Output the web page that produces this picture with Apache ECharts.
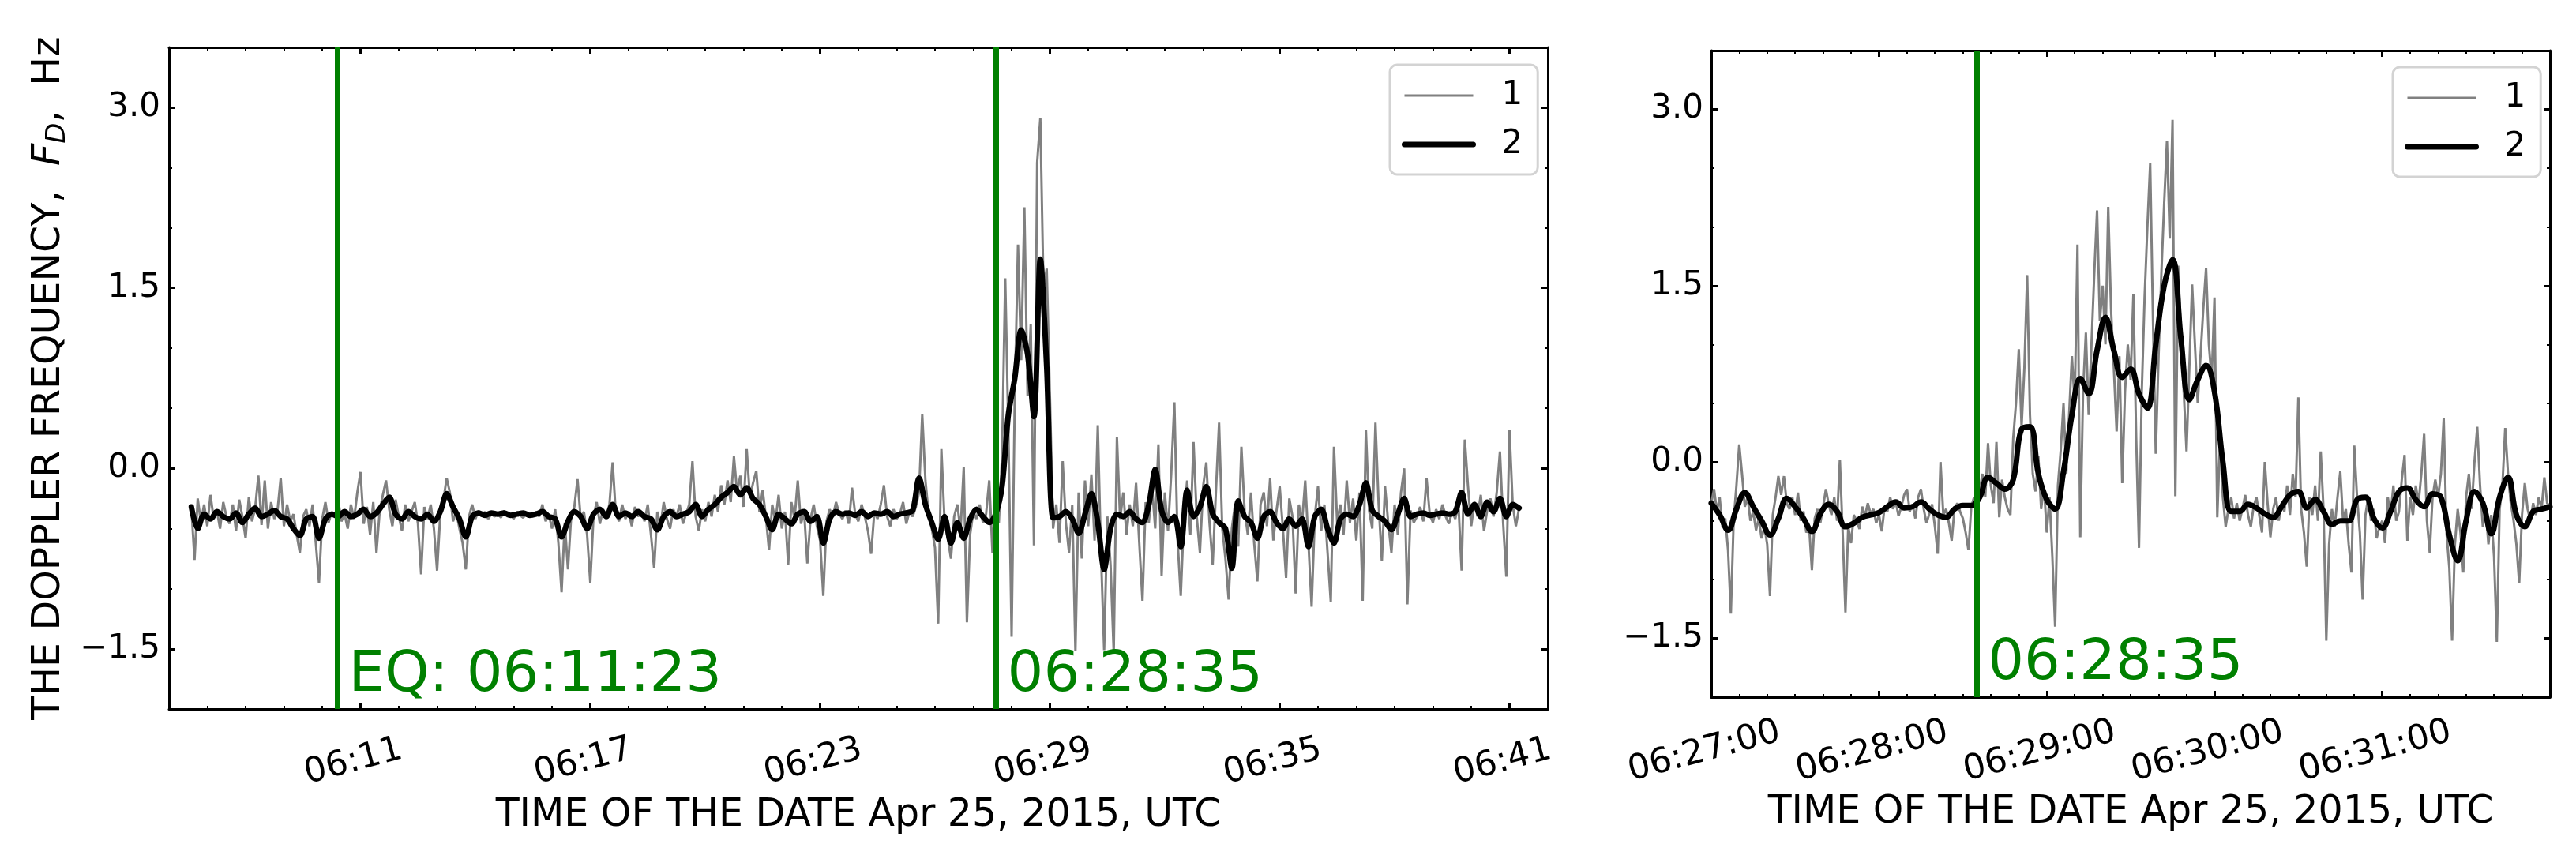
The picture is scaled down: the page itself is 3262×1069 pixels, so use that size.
<!DOCTYPE html>
<html>
<head>
<meta charset="utf-8">
<script src="https://cdn.jsdelivr.net/npm/echarts@6/dist/echarts.min.js"></script>
<style>
    html, body {margin: 0; padding: 0; background: #fff;}
    #main {width: 3262px; height: 1069px;}
</style>
</head>
<body>
<div id="main"></div>
<script>
// Doppler frequency, Apr 25 2015: whole record (left) and close-up (right)

// left panel, raw record (1): one sample every 5 s, one row = 1 min
const leftStart = '06:06:35';
const leftRawStep = 5;
const leftRaw = [
    -0.32, -0.76, -0.25, -0.45, -0.30, -0.48, -0.22, -0.42, -0.35, -0.50, -0.28, -0.40,
    -0.46, -0.30, -0.52, -0.26, -0.40, -0.58, -0.24, -0.44, -0.33, -0.06, -0.47, -0.10,
    -0.50, -0.28, -0.42, -0.35, -0.08, -0.48, -0.30, -0.44, -0.38, -0.55, -0.70, -0.40,
    -0.34, -0.48, -0.30, -0.62, -0.95, -0.42, -0.28, -0.45, -0.36, -0.40, -0.26, -0.44,
    -0.38, -0.50, -0.30, -0.42, -0.20, -0.03, -0.46, -0.32, -0.55, -0.28, -0.70, -0.36,
    -0.22, -0.10, -0.34, -0.48, -0.26, -0.40, -0.52, -0.30, -0.44, -0.36, -0.28, -0.46,
    -0.88, -0.32, -0.42, -0.30, -0.50, -0.85, -0.38, -0.26, -0.08, -0.20, -0.44, -0.36,
    -0.50, -0.62, -0.84, -0.40, -0.30, -0.42, -0.35, -0.40, -0.36, -0.42, -0.38, -0.40,
    -0.37, -0.41, -0.35, -0.40, -0.38, -0.42, -0.36, -0.39, -0.41, -0.37, -0.40, -0.38,
    -0.36, -0.40, -0.30, -0.44, -0.38, -0.50, -0.34, -0.62, -1.03, -0.45, -0.84, -0.40,
    -0.32, -0.09, -0.42, -0.36, -0.55, -0.95, -0.40, -0.28, -0.46, -0.34, -0.40, -0.30,
    0.05, -0.38, -0.44, -0.30, -0.42, -0.36, -0.48, -0.32, -0.40, -0.36, -0.44, -0.30,
    -0.55, -0.83, -0.36, -0.48, -0.28, -0.42, -0.50, -0.34, -0.40, -0.30, -0.46, -0.38,
    -0.30, 0.06, -0.40, -0.52, -0.34, -0.44, -0.28, -0.40, -0.22, -0.36, -0.14, -0.30,
    -0.10, -0.28, 0.10, -0.20, -0.06, -0.32, 0.16, -0.24, -0.12, -0.02, -0.36, -0.18,
    -0.40, -0.68, -0.30, -0.44, -0.22, -0.50, -0.36, -0.80, -0.28, -0.42, -0.10, -0.46,
    -0.36, -0.79, -0.42, -0.30, -0.48, -0.60, -1.06, -0.44, -0.34, -0.40, -0.28, -0.38,
    -0.42, -0.35, -0.46, -0.16, -0.38, -0.44, -0.30, -0.40, -0.52, -0.71, -0.36, -0.42,
    -0.30, -0.14, -0.40, -0.48, -0.34, -0.42, -0.38, -0.28, -0.46, -0.36, -0.40, -0.32,
    -0.20, 0.45, -0.10, -0.38, -0.50, -0.66, -1.29, 0.16, -0.44, -0.58, -0.75, -0.40,
    -0.30, -0.52, 0.01, -1.28, -0.55, -0.36, -0.42, -0.30, -0.45, -0.38, -0.10, -0.70,
    -0.20, -0.45, 0.10, 1.58, 0.30, -1.40, 0.60, 1.86, 0.90, 2.17, 0.60, 1.20,
    -0.64, 2.54, 2.91, 1.49, 1.66, 0.60, -0.50, -0.30, -0.62, 0.06, -0.45, -0.70,
    -0.30, -1.52, -0.20, -0.75, -0.10, -0.48, -0.05, -0.60, 0.36, -0.70, -1.51, -0.40,
    -0.80, -1.53, 0.26, -0.42, -0.20, -0.55, -0.30, -0.48, -0.12, -0.62, -1.10, -0.28,
    -0.45, -0.15, -0.50, 0.20, -0.89, -0.20, -0.52, -0.05, 0.55, -0.60, -1.06, -0.40,
    -0.10, -0.55, 0.22, -0.40, -0.70, -0.15, 0.05, -0.45, -0.80, -0.20, 0.38, -0.50,
    -0.75, -1.09, -0.50, -0.30, -0.65, 0.18, -0.35, -0.55, -0.20, -0.62, -0.94, -0.30,
    -0.20, -0.48, -0.08, -0.60, -0.35, -0.15, -0.50, -0.91, -0.25, -0.40, -1.04, -0.30,
    -0.45, -0.10, -0.62, -1.15, -0.40, -0.15, -0.52, -0.30, -0.70, -1.11, 0.18, -0.45,
    -0.30, -0.55, -0.10, -0.45, -0.25, -0.60, -0.20, -1.10, 0.32, -0.35, -0.50, 0.38,
    -0.30, -0.77, -0.15, -0.45, -0.70, -0.30, -0.55, -0.20, 0.00, -1.13, -0.35, -0.45,
    -0.40, -0.32, -0.44, -0.08, -0.38, -0.45, -0.34, -0.42, -0.30, -0.40, -0.46, -0.36,
    -0.42, -0.30, -0.85, 0.24, -0.15, -0.48, -0.28, -0.40, -0.22, -0.52, -0.35, -0.25,
    -0.40, -0.20, 0.14, -0.45, -0.90, 0.32, -0.30, -0.48, -0.33
];

// left panel, smoothed (2): every 10 s
const leftSmoothStep = 10;
const leftSmooth = [
    -0.32, -0.50, -0.38, -0.42, -0.36, -0.40,
    -0.42, -0.37, -0.45, -0.38, -0.33, -0.40,
    -0.38, -0.35, -0.40, -0.42, -0.50, -0.56,
    -0.42, -0.40, -0.58, -0.42, -0.38, -0.40,
    -0.36, -0.40, -0.38, -0.34, -0.40, -0.37,
    -0.30, -0.24, -0.38, -0.42, -0.36, -0.40,
    -0.42, -0.38, -0.44, -0.36, -0.21, -0.32,
    -0.42, -0.57, -0.40, -0.37, -0.39, -0.37,
    -0.38, -0.37, -0.39, -0.38, -0.37, -0.39,
    -0.38, -0.36, -0.40, -0.42, -0.57, -0.44,
    -0.36, -0.40, -0.50, -0.38, -0.34, -0.40,
    -0.30, -0.40, -0.37, -0.40, -0.36, -0.40,
    -0.42, -0.51, -0.40, -0.36, -0.40, -0.38,
    -0.36, -0.30, -0.40, -0.34, -0.30, -0.24,
    -0.20, -0.15, -0.22, -0.16, -0.25, -0.30,
    -0.40, -0.51, -0.38, -0.42, -0.46, -0.38,
    -0.36, -0.44, -0.40, -0.62, -0.42, -0.36,
    -0.38, -0.37, -0.39, -0.36, -0.40, -0.37,
    -0.38, -0.36, -0.40, -0.38, -0.37, -0.35,
    -0.08, -0.30, -0.45, -0.59, -0.40, -0.62,
    -0.45, -0.58, -0.42, -0.34, -0.40, -0.45,
    -0.38, -0.15, 0.45, 0.75, 1.15, 0.95,
    0.43, 1.74, 0.84, -0.41, -0.40, -0.36,
    -0.42, -0.54, -0.38, -0.21, -0.45, -0.84,
    -0.50, -0.38, -0.40, -0.36, -0.42, -0.45,
    -0.30, -0.01, -0.35, -0.45, -0.40, -0.65,
    -0.18, -0.40, -0.32, -0.15, -0.38, -0.45,
    -0.50, -0.83, -0.27, -0.40, -0.45, -0.58,
    -0.40, -0.36, -0.45, -0.50, -0.42, -0.48,
    -0.42, -0.65, -0.40, -0.34, -0.50, -0.62,
    -0.42, -0.38, -0.40, -0.30, -0.12, -0.35,
    -0.40, -0.44, -0.51, -0.38, -0.25, -0.40,
    -0.38, -0.37, -0.39, -0.38, -0.37, -0.38,
    -0.36, -0.20, -0.38, -0.30, -0.40, -0.28,
    -0.36, -0.25, -0.40, -0.30, -0.33
];

// right panel, raw (1): every 1 s, one row = 20 s
const rightStart = '06:27:00';
const rightRawStep = 1;
const rightRaw = [
    -0.35, -0.23, -0.42, -0.30, -0.55, -0.48, -0.75, -1.29, -0.50, -0.20, 0.15, -0.10, -0.38, -0.30, -0.50, -0.42, -0.58, -0.48, -0.65, -0.55,
    -0.70, -1.14, -0.45, -0.30, -0.12, -0.28, -0.12, -0.35, -0.40, -0.30, -0.45, -0.26, -0.50, -0.42, -0.60, -0.55, -0.92, -0.48, -0.40, -0.52,
    -0.38, -0.23, -0.36, -0.45, -0.30, -0.50, 0.02, -0.60, -1.28, -0.55, -0.69, -0.45, -0.50, -0.57, -0.38, -0.46, -0.35, -0.44, -0.40, -0.52,
    -0.45, -0.59, -0.38, -0.42, -0.30, -0.40, -0.34, -0.46, -0.38, -0.28, -0.23, -0.42, -0.36, -0.48, -0.30, -0.23, -0.40, -0.52, -0.44, -0.36,
    -0.55, -0.78, 0.00, -0.45, -0.40, -0.52, -0.67, -0.40, -0.35, -0.42, -0.48, -0.60, -0.75, -0.38, -0.30, -0.47, -0.25, -0.10, -0.30, 0.16,
    -0.20, -0.35, 0.17, -0.47, -0.15, -0.30, -0.40, -0.45, 0.20, 0.50, 0.96, 0.30, 0.80, 1.59, 0.40, -0.10, -0.25, 0.05, -0.40, -0.20,
    -0.60, -0.30, -0.80, -1.40, -0.20, 0.10, 0.50, -0.10, 0.40, 0.90, 0.50, 1.85, -0.64, 0.60, 1.10, 0.40, 1.00, 1.60, 2.14, 1.20,
    1.50, 1.00, 2.17, 1.30, 0.80, 0.26, 0.90, -0.18, 0.60, 1.00, 0.70, 1.43, 0.20, -0.73, 0.60, 1.40, 2.00, 2.54, 1.20, 0.07,
    0.90, 1.60, 2.20, 2.73, 1.90, 2.91, -0.29, 1.67, 1.10, 0.60, 0.09, 0.80, 1.51, 1.00, 0.50, 0.90, 1.30, 1.65, 1.00, 0.70,
    1.40, -0.47, 0.20, -0.30, -0.55, -0.40, -0.30, -0.48, -0.35, -0.50, -0.40, -0.28, -0.45, -0.55, -0.38, -0.30, -0.45, -0.60, 0.00, -0.35,
    -0.64, -0.40, -0.30, -0.50, -0.35, -0.42, -0.20, -0.45, -0.10, -0.30, 0.55, -0.40, -0.60, -0.89, -0.30, -0.45, -0.20, -0.50, 0.09, -0.40,
    -1.52, -0.70, -0.40, -0.55, -0.30, -0.08, -0.50, -0.40, -0.70, -0.94, 0.14, -0.30, -0.60, -1.17, -0.45, -0.30, -0.50, -0.40, -0.65, -0.55,
    -0.50, -0.69, -0.30, -0.45, -0.20, -0.50, -0.42, -0.15, 0.06, -0.67, -0.30, -0.45, -0.20, -0.35, -0.10, 0.24, -0.50, -0.77, -0.30, -0.15,
    -0.30, -0.10, 0.37, -0.60, -0.90, -1.52, -0.70, -0.40, -0.60, -0.94, -0.30, -0.10, -0.40, 0.00, 0.30, -0.20, -0.55, -0.40, -0.70, -0.45,
    -0.80, -1.53, -0.40, -0.20, 0.29, -0.10, -0.35, -0.50, -0.70, -1.03, -0.45, -0.18, -0.40, -0.50, -0.35, -0.45, -0.30, -0.40, -0.13, -0.35,
    -0.38
];

// right panel, smoothed (2): every 3 s
const rightSmoothStep = 3;
const rightSmooth = [
    -0.35, -0.45, -0.58, -0.40, -0.26, -0.38, -0.50, -0.62, -0.48, -0.31,
    -0.38, -0.48, -0.59, -0.44, -0.36, -0.42, -0.55, -0.52, -0.47, -0.45,
    -0.43, -0.38, -0.34, -0.39, -0.38, -0.34, -0.40, -0.45, -0.47, -0.40,
    -0.37, -0.37, -0.30, -0.13, -0.18, -0.23, -0.15, 0.28, 0.30, -0.10,
    -0.32, -0.40, -0.08, 0.40, 0.71, 0.58, 0.95, 1.23, 0.95, 0.72,
    0.79, 0.58, 0.46, 1.00, 1.50, 1.72, 1.05, 0.53, 0.70, 0.82,
    0.60, 0.00, -0.42, -0.42, -0.36, -0.39, -0.44, -0.47, -0.38, -0.28,
    -0.25, -0.39, -0.32, -0.42, -0.53, -0.50, -0.50, -0.32, -0.30, -0.48,
    -0.56, -0.42, -0.25, -0.22, -0.32, -0.38, -0.27, -0.30, -0.62, -0.84,
    -0.50, -0.25, -0.35, -0.61, -0.30, -0.13, -0.45, -0.55, -0.42, -0.40,
    -0.38
];

const leftRange = ['06:06', '06:42'];
const rightRange = ['06:27:00', '06:32:00'];
const leftTickLabels = ['06:11', '06:17', '06:23', '06:29', '06:35', '06:41'];
const rightTickLabels = ['06:27:00', '06:28:00', '06:29:00', '06:30:00', '06:31:00'];
const yRange = [-2.0, 3.5];
const yTickValues = [-1.5, 0.0, 1.5, 3.0];

// vertical marker lines and their captions
const leftMarks = ['06:10:24', '06:27:36'];
const leftMarkText = ['EQ: 06:11:23', '06:28:35'];
const rightMarks = ['06:28:35'];
const rightMarkText = ['06:28:35'];

const FONT = 'DejaVu Sans';
const GREEN = '#008000';

function toSec(s) {
    const p = s.split(':').map(Number);
    return p[0] * 3600 + p[1] * 60 + (p[2] || 0);
}

function clock(v, withSec) {
    const t = Math.round(v);
    const pad = n => String(n).padStart(2, '0');
    const hm = pad(Math.floor(t / 3600)) + ':' + pad(Math.floor(t % 3600 / 60));
    return withSec ? hm + ':' + pad(t % 60) : hm;
}

function toPoints(start, step, values) {
    const t0 = toSec(start);
    return values.map((v, i) => [t0 + i * step, v]);
}

const frameLine = {show: true, onZero: false, lineStyle: {color: '#000', width: 3}};
const majorTick = {show: true, inside: true, length: 8, lineStyle: {color: '#000', width: 3}};
const minorTick = {show: true, inside: true, length: 4, lineStyle: {color: '#000', width: 2}};

function xAxesFor(gridIndex, range, labels, minorStep, withSec, labelMargin, nameGap) {
    const majors = labels.map(toSec);
    const base = {
        type: 'value', gridIndex: gridIndex, min: toSec(range[0]), max: toSec(range[1]),
        splitLine: {show: false}
    };
    return [
        {
            ...base, position: 'bottom', axisLine: frameLine,
            axisTick: {...majorTick, customValues: majors},
            axisLabel: {
                show: true, customValues: majors, rotate: 15, align: 'center', verticalAlign: 'top',
                margin: labelMargin, padding: [0, 30, 0, 0],
                fontSize: 44, fontFamily: FONT, color: '#000',
                formatter: v => clock(v, withSec)
            },
            name: 'TIME OF THE DATE Apr 25, 2015, UTC', nameLocation: 'middle', nameGap: nameGap,
            nameTextStyle: {fontSize: 49, fontFamily: FONT, color: '#000', verticalAlign: 'top'}
        },
        {...base, position: 'bottom', interval: minorStep, axisLine: {show: false, onZero: false},
            axisTick: minorTick, axisLabel: {show: false}},
        {...base, position: 'top', axisLine: frameLine,
            axisTick: {...majorTick, customValues: majors}, axisLabel: {show: false}},
        {...base, position: 'top', interval: minorStep, axisLine: {show: false, onZero: false},
            axisTick: minorTick, axisLabel: {show: false}}
    ];
}

function yAxesFor(gridIndex, labelMargin, withName) {
    const base = {type: 'value', gridIndex: gridIndex, min: yRange[0], max: yRange[1], splitLine: {show: false}};
    const left = {
        ...base, position: 'left', axisLine: frameLine,
        axisTick: {...majorTick, customValues: yTickValues},
        axisLabel: {
            show: true, customValues: yTickValues, margin: labelMargin,
            fontSize: 42, fontFamily: FONT, color: '#000',
            formatter: v => (v < 0 ? '\u2212' : '') + Math.abs(v).toFixed(1)
        }
    };
    if (withName) {
        left.name = 'THE DOPPLER FREQUENCY,  {i|F}{s|D},  Hz';
        left.nameLocation = 'middle';
        left.nameGap = 124;
        left.nameRotate = 90;
        left.nameTextStyle = {
            fontSize: 49, fontFamily: FONT, color: '#000',
            rich: {
                i: {fontSize: 49, fontFamily: FONT, fontStyle: 'italic', color: '#000'},
                s: {fontSize: 34, fontFamily: FONT, fontStyle: 'italic', color: '#000', padding: [22, 0, 0, 0]}
            }
        };
    }
    return [
        left,
        {...base, position: 'left', interval: 0.5, axisLine: {show: false},
            axisTick: minorTick, axisLabel: {show: false}},
        {...base, position: 'right', axisLine: frameLine,
            axisTick: {...majorTick, customValues: yTickValues}, axisLabel: {show: false}},
        {...base, position: 'right', interval: 0.5, axisLine: {show: false},
            axisTick: minorTick, axisLabel: {show: false}}
    ];
}

function rawSeries(axis, data) {
    return {
        name: '1', type: 'line', xAxisIndex: axis, yAxisIndex: axis, data: data,
        symbol: 'none', showSymbol: false, z: 2,
        lineStyle: {color: '#808080', width: 3}, itemStyle: {color: '#808080'}
    };
}

function smoothSeries(axis, data, smooth, marks) {
    return {
        name: '2', type: 'line', xAxisIndex: axis, yAxisIndex: axis, data: data,
        symbol: 'none', showSymbol: false, smooth: smooth, z: 3,
        lineStyle: {color: '#000', width: 7, join: 'round', cap: 'round'}, itemStyle: {color: '#000'},
        markLine: {
            silent: true, symbol: ['none', 'none'], animation: false,
            label: {show: false},
            lineStyle: {color: GREEN, width: 7, type: 'solid', opacity: 1},
            emphasis: {disabled: true},
            data: marks.map(m => ({xAxis: toSec(m)}))
        }
    };
}

function captionSeries(axis, marks, texts) {
    return {
        type: 'scatter', xAxisIndex: axis, yAxisIndex: axis, symbolSize: 0, silent: true, z: 5,
        itemStyle: {opacity: 1},
        data: marks.map((m, i) => ({value: [toSec(m), yRange[0]], name: texts[i]})),
        label: {
            show: true, position: [14, -6], align: 'left', verticalAlign: 'bottom', opacity: 1,
            formatter: p => p.name, fontSize: 72, fontFamily: FONT, color: GREEN
        }
    };
}

const legendBase = {
    orient: 'vertical', itemWidth: 87, itemHeight: 30, itemGap: 20,
    padding: [18, 19, 17, 15],
    borderColor: '#d3d3d3', borderWidth: 3, borderRadius: 9, backgroundColor: '#fff',
    textStyle: {fontSize: 42, lineHeight: 30, fontFamily: FONT, color: '#000', padding: [0, 0, 0, 31]},
    itemStyle: {opacity: 0},
    lineStyle: {width: 'inherit'},
    data: ['1', '2']
};

const chart = echarts.init(document.getElementById('main'));
const option = {
    animation: false,
    backgroundColor: '#fff',
    grid: [
        {left: 214, top: 60, width: 1746, height: 838},
        {left: 2167, top: 64, width: 1062, height: 819}
    ],
    legend: [
        {...legendBase, left: 1760, top: 82},
        {...legendBase, left: 3030, top: 85}
    ],
    xAxis: [
        ...xAxesFor(0, leftRange, leftTickLabels, 60, false, 42, 100),
        ...xAxesFor(1, rightRange, rightTickLabels, 10, true, 44, 119)
    ],
    yAxis: [
        ...yAxesFor(0, 11, true),
        ...yAxesFor(1, 10, false)
    ],
    series: [
        rawSeries(0, toPoints(leftStart, leftRawStep, leftRaw)),
        smoothSeries(0, toPoints(leftStart, leftSmoothStep, leftSmooth), 0.3, leftMarks),
        captionSeries(0, leftMarks, leftMarkText),
        rawSeries(4, toPoints(rightStart, rightRawStep, rightRaw)),
        smoothSeries(4, toPoints(rightStart, rightSmoothStep, rightSmooth), 0.4, rightMarks),
        captionSeries(4, rightMarks, rightMarkText)
    ]
};
chart.setOption(option);
</script>
</body>
</html>
